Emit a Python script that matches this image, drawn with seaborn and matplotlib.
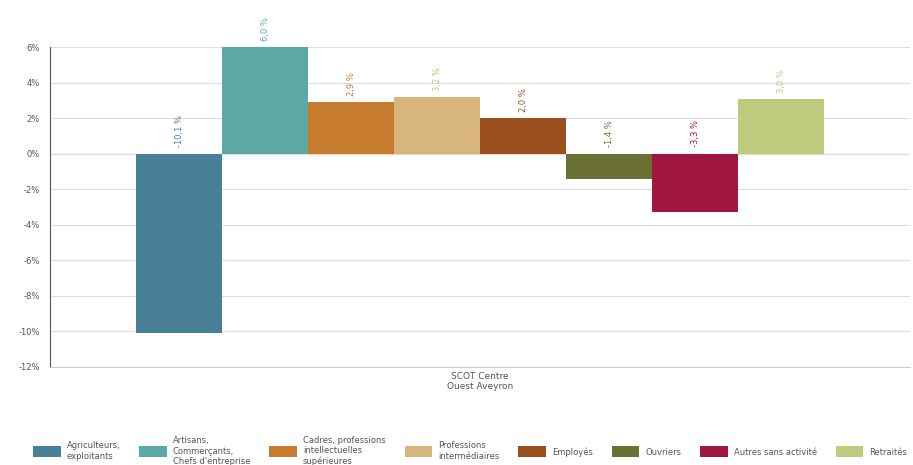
import pandas as pd
import matplotlib
matplotlib.use('Agg')
import matplotlib.pyplot as plt
import seaborn as sns

# données
zone = "SCOT Centre\nOuest Aveyron"
categories = [
    "Agriculteurs,\nexploitants",
    "Artisans,\nCommerçants,\nChefs d'entreprise",
    "Cadres, professions\nintellectuelles\nsupérieures",
    "Professions\nintermédiaires",
    "Employés",
    "Ouvriers",
    "Autres sans activité",
    "Retraités",
]
valeurs = [-10.1, 6.0, 2.9, 3.2, 2.0, -1.4, -3.3, 3.05]
couleurs = ["#4a7f9a", "#5ba8a5", "#c77c2e", "#d8b57a",
            "#9b4f1d", "#6b7033", "#a0173f", "#bccb7d"]
yticks = [-12, -10, -8, -6, -4, -2, 0, 2, 4, 6]

df = pd.DataFrame({"zone": [zone] * len(categories),
                   "categorie": categories,
                   "valeur": valeurs})

sns.set_style("white")
plt.rcParams['font.family'] = ['DejaVu Sans']

fig = plt.figure(figsize=(9.13, 4.65), dpi=100)
ax = fig.add_axes([0.0548, 0.2108, 0.942, 0.688])

sns.barplot(data=df, x="zone", y="valeur", hue="categorie",
            palette=couleurs, width=0.8, saturation=1, ax=ax,
            legend=True, linewidth=0)

# étiquettes de valeur, tournées, au-dessus de zéro ou de la barre
for patch, v, c in zip(ax.patches, valeurs, couleurs):
    x = patch.get_x() + patch.get_width() / 2
    y = max(0, v) + 0.35
    ax.text(x, y, f"{v:+.1f} %".replace(".", ",").replace("+", ""),
            rotation=90, ha="center", va="bottom", fontsize=6, color=c)

ax.set_ylim(-12, 6)
ax.set_xlim(-0.5, 0.5)
ax.set_yticks(yticks)
ax.set_yticklabels([f"{t}%" for t in yticks], fontsize=6, color="#555555")
ax.tick_params(axis="x", labelsize=6.5, colors="#555555", length=0)
ax.tick_params(axis="y", length=4, color="#555555")
ax.set_xlabel("")
ax.set_ylabel("")
ax.grid(axis="y", color="#dddddd", linewidth=0.8)
ax.set_axisbelow(True)
ax.axhline(0, color="#999999", linewidth=0.8, zorder=0)
for s in ["top", "right"]:
    ax.spines[s].set_visible(False)
ax.spines["left"].set_color("#555555")
ax.spines["bottom"].set_color("#cccccc")

handles, labels = ax.get_legend_handles_labels()
ax.legend_.remove()
fig.legend(handles, labels, loc="center left", bbox_to_anchor=(0.03, 0.03),
           ncol=8, frameon=False, fontsize=6, handlelength=3.3,
           handleheight=1.6, columnspacing=2.3, handletextpad=0.7,
           labelcolor="#555555", borderpad=0.2)

fig.savefig("out.png", dpi=100)
